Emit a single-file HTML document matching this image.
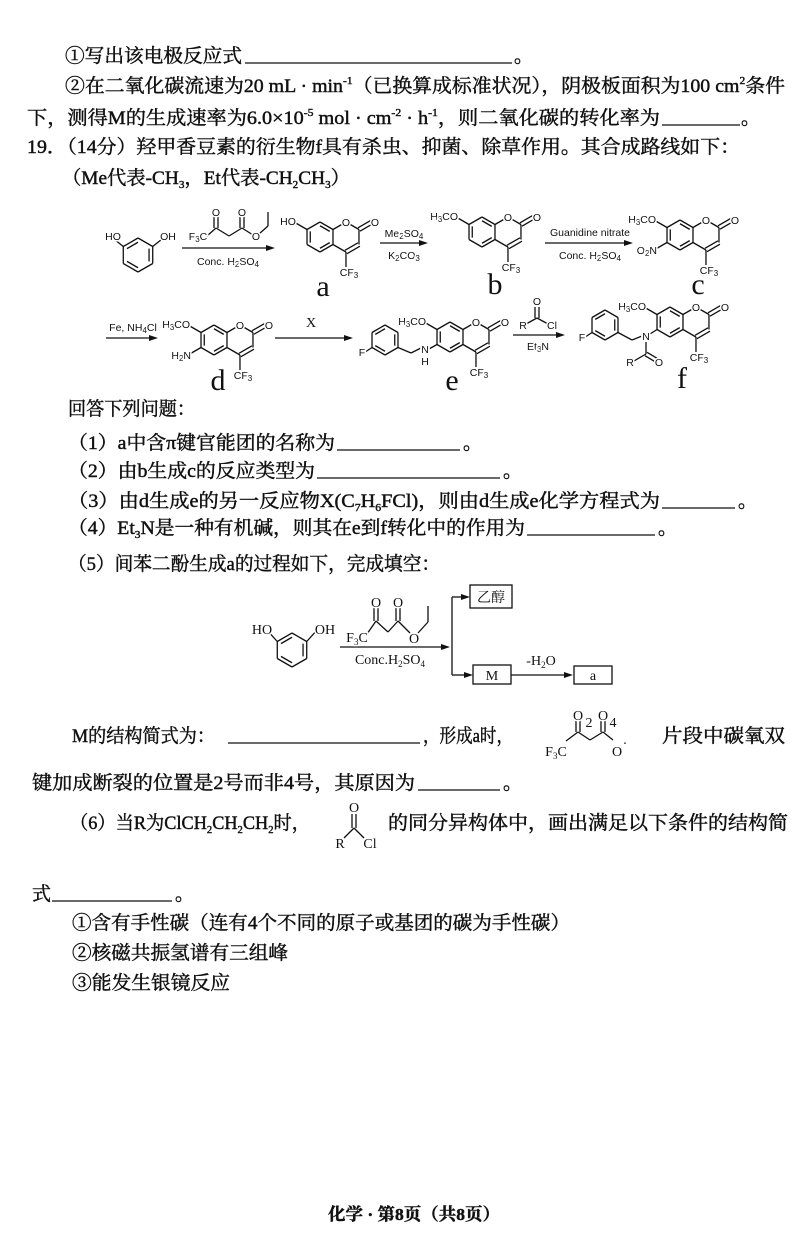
<!DOCTYPE html>
<html><head><meta charset="utf-8">
<style>
html,body{margin:0;padding:0;background:#fff;}
svg{display:block;}
.t{font-family:"Liberation Serif","Noto Serif CJK SC",serif;font-size:19px;fill:#111;stroke:#111;stroke-width:0.45px;}
.s{font-family:"Liberation Sans",sans-serif;font-size:10.5px;fill:#111;stroke:#fff;stroke-width:3px;paint-order:stroke;}
.sr{font-family:"Liberation Serif","Noto Serif CJK SC",serif;font-size:14px;fill:#111;stroke:#fff;stroke-width:3px;paint-order:stroke;}
.lab{font-family:"Liberation Serif",serif;font-size:30px;fill:#111;}
</style></head>
<body>
<svg id="pg" xmlns="http://www.w3.org/2000/svg" width="800" height="1236" viewBox="0 0 800 1236">
<g class="t">
<text x="65" y="62" textLength="177" lengthAdjust="spacingAndGlyphs">①写出该电极反应式</text>
<line x1="245" y1="63" x2="512" y2="63" stroke="#111" stroke-width="1.3"/>
<text x="514" y="62">。</text>
<text x="65" y="92" textLength="720" lengthAdjust="spacingAndGlyphs">②在二氧化碳流速为20 mL · min<tspan font-size="11" dy="-8">-1</tspan><tspan dy="8">（已换算成标准状况），阴极板面积为100 cm</tspan><tspan font-size="11" dy="-8">2</tspan><tspan dy="8">条件</tspan></text>
<text x="27" y="124" textLength="633" lengthAdjust="spacingAndGlyphs">下，测得M的生成速率为6.0×10<tspan font-size="11" dy="-8">-5</tspan><tspan dy="8"> mol · cm</tspan><tspan font-size="11" dy="-8">-2</tspan><tspan dy="8"> · h</tspan><tspan font-size="11" dy="-8">-1</tspan><tspan dy="8">，则二氧化碳的转化率为</tspan></text>
<line x1="662" y1="125" x2="740" y2="125" stroke="#111" stroke-width="1.3"/>
<text x="741" y="124">。</text>
<text x="27" y="153" textLength="713" lengthAdjust="spacingAndGlyphs">19．（14分）羟甲香豆素的衍生物f具有杀虫、抑菌、除草作用。其合成路线如下：</text>
<text x="62" y="184" textLength="288" lengthAdjust="spacingAndGlyphs">（Me代表-CH<tspan font-size="11" dy="4">3</tspan><tspan dy="-4">，Et代表-CH</tspan><tspan font-size="11" dy="4">2</tspan><tspan dy="-4">CH</tspan><tspan font-size="11" dy="4">3</tspan><tspan dy="-4">）</tspan></text>

<text x="68" y="415" textLength="127" lengthAdjust="spacingAndGlyphs">回答下列问题：</text>
<text x="68" y="449" textLength="267" lengthAdjust="spacingAndGlyphs">（1）a中含π键官能团的名称为</text>
<line x1="337" y1="450" x2="460" y2="450" stroke="#111" stroke-width="1.3"/><text x="463" y="449">。</text>
<text x="68" y="477" textLength="247" lengthAdjust="spacingAndGlyphs">（2）由b生成c的反应类型为</text>
<line x1="317" y1="478" x2="500" y2="478" stroke="#111" stroke-width="1.3"/><text x="503" y="477">。</text>
<text x="68" y="507" textLength="592" lengthAdjust="spacingAndGlyphs">（3）由d生成e的另一反应物X(C<tspan font-size="11" dy="4">7</tspan><tspan dy="-4">H</tspan><tspan font-size="11" dy="4">6</tspan><tspan dy="-4">FCl)，则由d生成e化学方程式为</tspan></text>
<line x1="662" y1="508" x2="735" y2="508" stroke="#111" stroke-width="1.3"/><text x="738" y="507">。</text>
<text x="68" y="534" textLength="457" lengthAdjust="spacingAndGlyphs">（4）Et<tspan font-size="11" dy="4">3</tspan><tspan dy="-4">N是一种有机碱，则其在e到f转化中的作用为</tspan></text>
<line x1="527" y1="535" x2="655" y2="535" stroke="#111" stroke-width="1.3"/><text x="658" y="534">。</text>
<text x="68" y="570" textLength="372" lengthAdjust="spacingAndGlyphs">（5）间苯二酚生成a的过程如下，完成填空：</text>

<text x="72" y="742" textLength="143" lengthAdjust="spacingAndGlyphs">M的结构简式为：</text>
<line x1="228" y1="743" x2="420" y2="743" stroke="#111" stroke-width="1.3"/>
<text x="423" y="742" textLength="90" lengthAdjust="spacingAndGlyphs">，形成a时，</text>
<text x="662" y="742" textLength="123" lengthAdjust="spacingAndGlyphs">片段中碳氧双</text>
<text x="32" y="789" textLength="383" lengthAdjust="spacingAndGlyphs">键加成断裂的位置是2号而非4号，其原因为</text>
<line x1="418" y1="790" x2="500" y2="790" stroke="#111" stroke-width="1.3"/><text x="503" y="789">。</text>
<text x="70" y="829" textLength="240" lengthAdjust="spacingAndGlyphs">（6）当R为ClCH<tspan font-size="11" dy="4">2</tspan><tspan dy="-4">CH</tspan><tspan font-size="11" dy="4">2</tspan><tspan dy="-4">CH</tspan><tspan font-size="11" dy="4">2</tspan><tspan dy="-4">时，</tspan></text>
<text x="388" y="829" textLength="400" lengthAdjust="spacingAndGlyphs">的同分异构体中，画出满足以下条件的结构简</text>
<text x="32" y="900">式</text>
<line x1="52" y1="901" x2="172" y2="901" stroke="#111" stroke-width="1.3"/><text x="175" y="900">。</text>
<text x="72" y="929" textLength="498" lengthAdjust="spacingAndGlyphs">①含有手性碳（连有4个不同的原子或基团的碳为手性碳）</text>
<text x="72" y="959" textLength="216" lengthAdjust="spacingAndGlyphs">②核磁共振氢谱有三组峰</text>
<text x="72" y="989" textLength="158" lengthAdjust="spacingAndGlyphs">③能发生银镜反应</text>
<text x="328" y="1220" textLength="172" lengthAdjust="spacingAndGlyphs" font-weight="bold" font-size="17">化学 · 第8页（共8页）</text>
</g>
<g id="chem" stroke="#111" stroke-width="1.3" fill="none"></g>
<g id="bg" fill="#fff" stroke="none"></g>
<g id="lbl"></g>
</svg>
<script>
var C=document.getElementById('chem'),B=document.getElementById('bg'),L=document.getElementById('lbl'),NS='http://www.w3.org/2000/svg';
function ln(a,b,c,d,w){var e=document.createElementNS(NS,'line');e.setAttribute('x1',a);e.setAttribute('y1',b);e.setAttribute('x2',c);e.setAttribute('y2',d);if(w)e.setAttribute('stroke-width',w);C.appendChild(e);}
function tx(x,y,h,cls,anc){var e=document.createElementNS(NS,'text');e.setAttribute('x',x);e.setAttribute('y',y);e.setAttribute('class',cls||'s');e.setAttribute('text-anchor',anc||'middle');e.innerHTML=h;L.appendChild(e);}
function dot(x,y,r){var e=document.createElementNS(NS,'circle');e.setAttribute('cx',x);e.setAttribute('cy',y);e.setAttribute('r',r||5);B.appendChild(e);}
function hexv(cx,cy,r){var k=.866*r;return[[cx,cy-r],[cx+k,cy-r/2],[cx+k,cy+r/2],[cx,cy+r],[cx-k,cy+r/2],[cx-k,cy-r/2]];}
function poly(v,skip){for(var i=0;i<6;i++){if(skip&&skip.indexOf(i)>=0)continue;var a=v[i],b=v[(i+1)%6];ln(a[0],a[1],b[0],b[1]);}}
function inner(v,cx,cy,i){var a=v[i],b=v[(i+1)%6],f=.75;ln(cx+(a[0]-cx)*f,cy+(a[1]-cy)*f,cx+(b[0]-cx)*f,cy+(b[1]-cy)*f);}
function dbl(a,b,c,d){var dx=c-a,dy=d-b,l=Math.hypot(dx,dy),nx=-dy/l*2,ny=dx/l*2;ln(a+nx,b+ny,c+nx,d+ny);ln(a-nx,b-ny,c-nx,d-ny);}
function arrow(x1,y,x2,w){ln(x1,y,x2-6,y,w);var p=document.createElementNS(NS,'polygon');p.setAttribute('points',(x2)+','+y+' '+(x2-9)+','+(y-3)+' '+(x2-9)+','+(y+3));p.setAttribute('fill','#111');p.setAttribute('stroke','none');C.appendChild(p);}
function benz(cx,cy,r){var v=hexv(cx,cy,r);poly(v);inner(v,cx,cy,1);inner(v,cx,cy,3);inner(v,cx,cy,5);return v;}
function coum(cx,cy,r,o){var Lv=hexv(cx,cy,r);poly(Lv);inner(Lv,cx,cy,0);inner(Lv,cx,cy,2);inner(Lv,cx,cy,4);
 var R=hexv(cx+1.732*r,cy,r);
 ln(R[5][0],R[5][1],R[0][0],R[0][1]);ln(R[0][0],R[0][1],R[1][0],R[1][1]);ln(R[1][0],R[1][1],R[2][0],R[2][1]);
 dbl(R[2][0],R[2][1],R[3][0],R[3][1]);ln(R[3][0],R[3][1],R[4][0],R[4][1]);
 var ex=R[1][0]+.866*r,ey=R[1][1]-r/2;dbl(R[1][0],R[1][1],ex,ey);
 dot(R[0][0],R[0][1]);dot(ex+3,ey);
 tx(R[0][0],R[0][1]+4,'O');tx(ex+3,ey+4,'O');
 ln(R[3][0],R[3][1],R[3][0],R[3][1]+r);tx(R[3][0]+3,R[3][1]+r+9,'CF<tspan font-size="8" dy="2">3</tspan>');
 var a5=[Lv[5][0]-.866*r,Lv[5][1]-r/2],a4=[Lv[4][0]-.866*r,Lv[4][1]+r/2];
 return {L:Lv,R:R,a5:a5,a4:a4,v5:Lv[5],v4:Lv[4]};}
var r=15;
var v=benz(138,255,17);ln(v[5][0],v[5][1],v[5][0]-10,v[5][1]-8);ln(v[1][0],v[1][1],v[1][0]+10,v[1][1]-8);
tx(113,240,'HO');tx(168,240,'OH');
ln(207,236,216,228);ln(216,228,229,236);ln(229,236,242,228);ln(242,228,253,235);ln(259,234,268,226);ln(268,226,268,212);
dbl(216,228,216,217);dbl(242,228,242,217);dot(256,236);tx(198,240,'F<tspan font-size="8" dy="2">3</tspan><tspan dy="-2">C</tspan>');tx(216,216,'O');tx(242,216,'O');tx(256,240,'O');
arrow(182,248,275);tx(228,265,'Conc. H<tspan font-size="8" dy="2">2</tspan><tspan dy="-2">SO</tspan><tspan font-size="8" dy="2">4</tspan>');
var a=coum(320,237,r);ln(a.v5[0],a.v5[1],a.a5[0],a.a5[1]);tx(a.a5[0]-6,a.a5[1]+3,'HO');
tx(323,296,'a','lab');
arrow(380,243,428);tx(404,237,'Me<tspan font-size="8" dy="2">2</tspan><tspan dy="-2">SO</tspan><tspan font-size="8" dy="2">4</tspan>');tx(404,259,'K<tspan font-size="8" dy="2">2</tspan><tspan dy="-2">CO</tspan><tspan font-size="8" dy="2">3</tspan>');
var b=coum(482,232,r);ln(b.v5[0],b.v5[1],b.a5[0],b.a5[1]);tx(b.a5[0]+2,b.a5[1]+3,'H<tspan font-size="8" dy="2">3</tspan><tspan dy="-2">CO</tspan>','s','end');
tx(495,294,'b','lab');
arrow(545,243,633);tx(590,236,'Guanidine nitrate','s');tx(590,259,'Conc. H<tspan font-size="8" dy="2">2</tspan><tspan dy="-2">SO</tspan><tspan font-size="8" dy="2">4</tspan>');
var c=coum(680,235,r);ln(c.v5[0],c.v5[1],c.a5[0],c.a5[1]);tx(c.a5[0]+2,c.a5[1]+3,'H<tspan font-size="8" dy="2">3</tspan><tspan dy="-2">CO</tspan>','s','end');
ln(c.v4[0],c.v4[1],c.a4[0],c.a4[1]);tx(c.a4[0]+3,c.a4[1]+4,'O<tspan font-size="8" dy="2">2</tspan><tspan dy="-2">N</tspan>','s','end');
tx(698,294,'c','lab');
arrow(106,338,158);tx(133,331,'Fe, NH<tspan font-size="8" dy="2">4</tspan><tspan dy="-2">Cl</tspan>');
var d=coum(214,340,r);ln(d.v5[0],d.v5[1],d.a5[0],d.a5[1]);tx(d.a5[0]+2,d.a5[1]+3,'H<tspan font-size="8" dy="2">3</tspan><tspan dy="-2">CO</tspan>','s','end');
ln(d.v4[0],d.v4[1],d.a4[0],d.a4[1]);tx(d.a4[0]+3,d.a4[1]+4,'H<tspan font-size="8" dy="2">2</tspan><tspan dy="-2">N</tspan>','s','end');
tx(218,390,'d','lab');
arrow(275,338,353);tx(311,327,'X','sr');
var fb=benz(385,340,r);ln(fb[4][0],fb[4][1],fb[4][0]-9,fb[4][1]+6);tx(362,356,'F');
ln(fb[2][0],fb[2][1],411,353);ln(411,353,421,348);
var e=coum(450,337,r);ln(e.v4[0],e.v4[1],429,349);dot(425,349);tx(425,353,'N');tx(425,365,'H');
ln(e.v5[0],e.v5[1],e.a5[0],e.a5[1]);tx(e.a5[0]+2,e.a5[1]+3,'H<tspan font-size="8" dy="2">3</tspan><tspan dy="-2">CO</tspan>','s','end');
tx(452,390,'e','lab');
ln(537,318,526,324);ln(537,318,548,324);dbl(537,318,537,307);tx(537,305,'O');tx(523,329,'R');tx(552,329,'Cl');
arrow(513,335,565);tx(538,350,'Et<tspan font-size="8" dy="2">3</tspan><tspan dy="-2">N</tspan>');
var gb=benz(605,325,r);ln(gb[4][0],gb[4][1],gb[4][0]-9,gb[4][1]+6);tx(582,341,'F');
ln(gb[2][0],gb[2][1],632,340);ln(632,340,642,336);
var f=coum(670,322,r);ln(f.v4[0],f.v4[1],650,334);dot(646,336);tx(646,340,'N');
ln(f.v5[0],f.v5[1],f.a5[0],f.a5[1]);tx(f.a5[0]+2,f.a5[1]+3,'H<tspan font-size="8" dy="2">3</tspan><tspan dy="-2">CO</tspan>','s','end');
ln(646,342,646,354);ln(646,354,634,361);dbl(646,354,656,360);tx(630,366,'R');tx(659,366,'O');
tx(682,388,'f','lab');
var s=benz(292,650,17);ln(s[5][0],s[5][1],s[5][0]-9,s[5][1]-10);ln(s[1][0],s[1][1],s[1][0]+9,s[1][1]-10);
tx(262,634,'HO','sr');tx(325,634,'OH','sr');
ln(367,634,376,621);ln(376,621,388,632);ln(388,632,398,621);ln(398,621,410,633);ln(418,633,428,622);ln(428,622,428,606);
dbl(376,621,376,608);dbl(398,621,398,608);tx(376,607,'O','sr');tx(398,607,'O','sr');dot(414,638,6);tx(414,643,'O','sr');
tx(357,642,'F<tspan font-size="9" dy="3">3</tspan><tspan dy="-3">C</tspan>','sr');
arrow(340,647,450);tx(390,664,'Conc.H<tspan font-size="9" dy="3">2</tspan><tspan dy="-3">SO</tspan><tspan font-size="9" dy="3">4</tspan>','sr');
ln(452,597,452,675);arrow(452,597,470);arrow(452,675,473);
var rc=function(x,y,w,h){var e=document.createElementNS(NS,'rect');e.setAttribute('x',x);e.setAttribute('y',y);e.setAttribute('width',w);e.setAttribute('height',h);C.appendChild(e);};
rc(470,585,42,23);rc(473,665,38,19);rc(574,666,38,18);
tx(491,602,'乙醇','sr');tx(492,680,'M','sr');tx(593,680,'a','sr');
arrow(511,675,573);tx(541,665,'-H<tspan font-size="9" dy="3">2</tspan><tspan dy="-3">O</tspan>','sr');
ln(566,741,578,732);ln(578,732,590,740);ln(590,740,603,732);ln(603,732,613,740);
dbl(578,732,578,721);dbl(603,732,603,721);tx(578,720,'O','sr');tx(603,720,'O','sr');tx(589,727,'2','sr');tx(613,727,'4','sr');
tx(617,756,'O','sr');tx(625,748,'·','sr');tx(556,756,'F<tspan font-size="9" dy="3">3</tspan><tspan dy="-3">C</tspan>','sr');
ln(354,828,344,838);ln(354,828,364,838);dbl(354,828,354,814);tx(354,812,'O','sr');tx(340,848,'R','sr');tx(370,848,'Cl','sr');
</script>
</body></html>
